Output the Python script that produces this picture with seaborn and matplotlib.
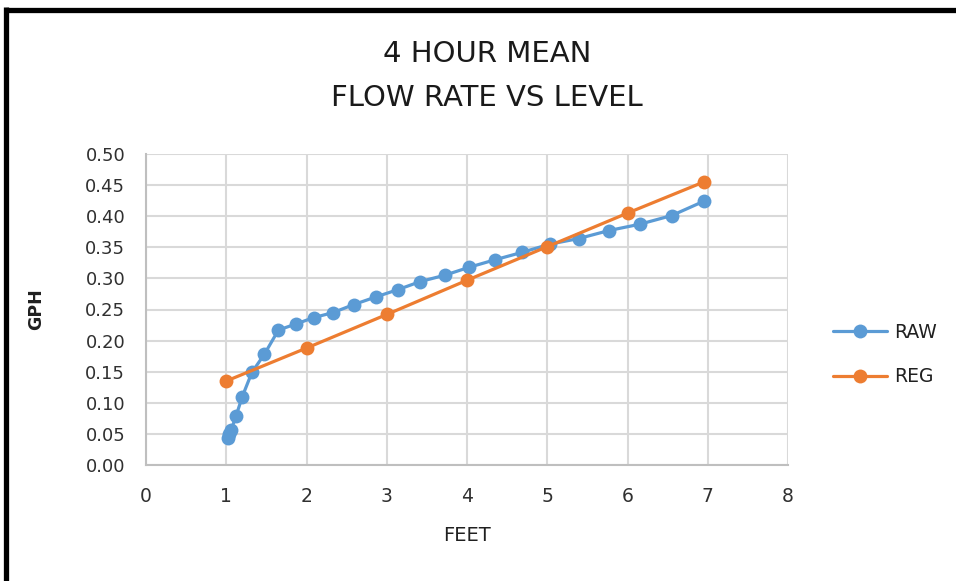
import numpy as np
import pandas as pd
import matplotlib
matplotlib.use("Agg")
import matplotlib.pyplot as plt
import seaborn as sns
from matplotlib.lines import Line2D

raw_feet = [1.02, 1.04, 1.06, 1.12, 1.20, 1.32, 1.475, 1.65, 1.875, 2.09, 2.33, 2.59,
            2.86, 3.14, 3.42, 3.72, 4.03, 4.35, 4.69, 5.03, 5.39, 5.77, 6.15, 6.55, 6.95]
raw_gph = [0.044, 0.050, 0.056, 0.078, 0.110, 0.149, 0.178, 0.217, 0.227, 0.237, 0.245, 0.258,
           0.270, 0.282, 0.295, 0.305, 0.318, 0.330, 0.342, 0.355, 0.364, 0.377, 0.387, 0.401, 0.424]
reg_feet = [1.0, 2.0, 3.0, 4.0, 5.0, 6.0, 6.95]
reg_gph = [0.135, 0.188, 0.242, 0.297, 0.351, 0.405, 0.455]

series_names = ["RAW", "REG"]
colors = ["#5B9BD5", "#ED7D31"]
x_ticks = [0, 1, 2, 3, 4, 5, 6, 7, 8]
y_ticks = [0.00, 0.05, 0.10, 0.15, 0.20, 0.25, 0.30, 0.35, 0.40, 0.45, 0.50]

df = pd.concat([
    pd.DataFrame({"FEET": raw_feet, "GPH": raw_gph, "series": "RAW"}),
    pd.DataFrame({"FEET": reg_feet, "GPH": reg_gph, "series": "REG"}),
], ignore_index=True)

sns.set_theme(style="white")
plt.rcParams["font.family"] = ["DejaVu Sans"]

fig = plt.figure(figsize=(9.56, 5.81), dpi=100)
W, H = 956, 581
ax = fig.add_axes([146 / W, 1 - 465 / H, (788 - 146) / W, (465 - 154) / H])

sns.lineplot(data=df, x="FEET", y="GPH", hue="series", palette=dict(zip(series_names, colors)),
             marker="o", markersize=10, markeredgewidth=0, linewidth=2.3, sort=False,
             ax=ax, legend=False)

ax.set_xlim(0, 8)
ax.set_ylim(0, 0.5)
ax.set_xticks(x_ticks)
ax.set_yticks(y_ticks)
ax.set_xticklabels([str(t) for t in x_ticks], fontsize=13.5, color="#303030")
ax.set_yticklabels([f"{t:.2f}" for t in y_ticks], fontsize=13, color="#303030")
ax.tick_params(axis="both", length=0)
ax.tick_params(axis="y", pad=15)
ax.tick_params(axis="x", pad=16)
ax.grid(True, color="#d9d9d9", linewidth=1.5)
ax.set_axisbelow(True)
for s in ["top", "right"]:
    ax.spines[s].set_visible(False)
for s in ["left", "bottom"]:
    ax.spines[s].set_color("#bfbfbf")
    ax.spines[s].set_linewidth(1.5)

ax.set_xlabel("FEET", fontsize=14, color="#202020", labelpad=14)
ax.set_ylabel("GPH", fontsize=12.5, color="#202020", labelpad=29, fontweight="bold")

fig.text(487 / W, 1 - 54 / H, "4 HOUR MEAN", ha="center", va="center", fontsize=21, color="#1a1a1a")
fig.text(487 / W, 1 - 98 / H, "FLOW RATE VS LEVEL", ha="center", va="center", fontsize=21, color="#1a1a1a")

handles = [Line2D([], [], color=c, marker="o", markersize=10, markeredgewidth=0, linewidth=2.3)
           for c in colors]
fig.legend(handles, series_names, loc="center left", bbox_to_anchor=(833 / W, 1 - 354.5 / H),
           frameon=False, fontsize=13.5, handlelength=2.9, labelspacing=1.35, handletextpad=0.35,
           borderpad=0, borderaxespad=0, labelcolor="#202020")

# black frame lines at top and left
fig.add_artist(Line2D([5.8 / W, 1.0], [1 - 9.5 / H, 1 - 9.5 / H], color="black", linewidth=3.8,
                      transform=fig.transFigure, solid_capstyle="butt"))
fig.add_artist(Line2D([5.8 / W, 5.8 / W], [0, 1 - 7 / H], color="black", linewidth=3.8,
                      transform=fig.transFigure, solid_capstyle="butt"))

fig.savefig("out.png", dpi=100, facecolor="white")
